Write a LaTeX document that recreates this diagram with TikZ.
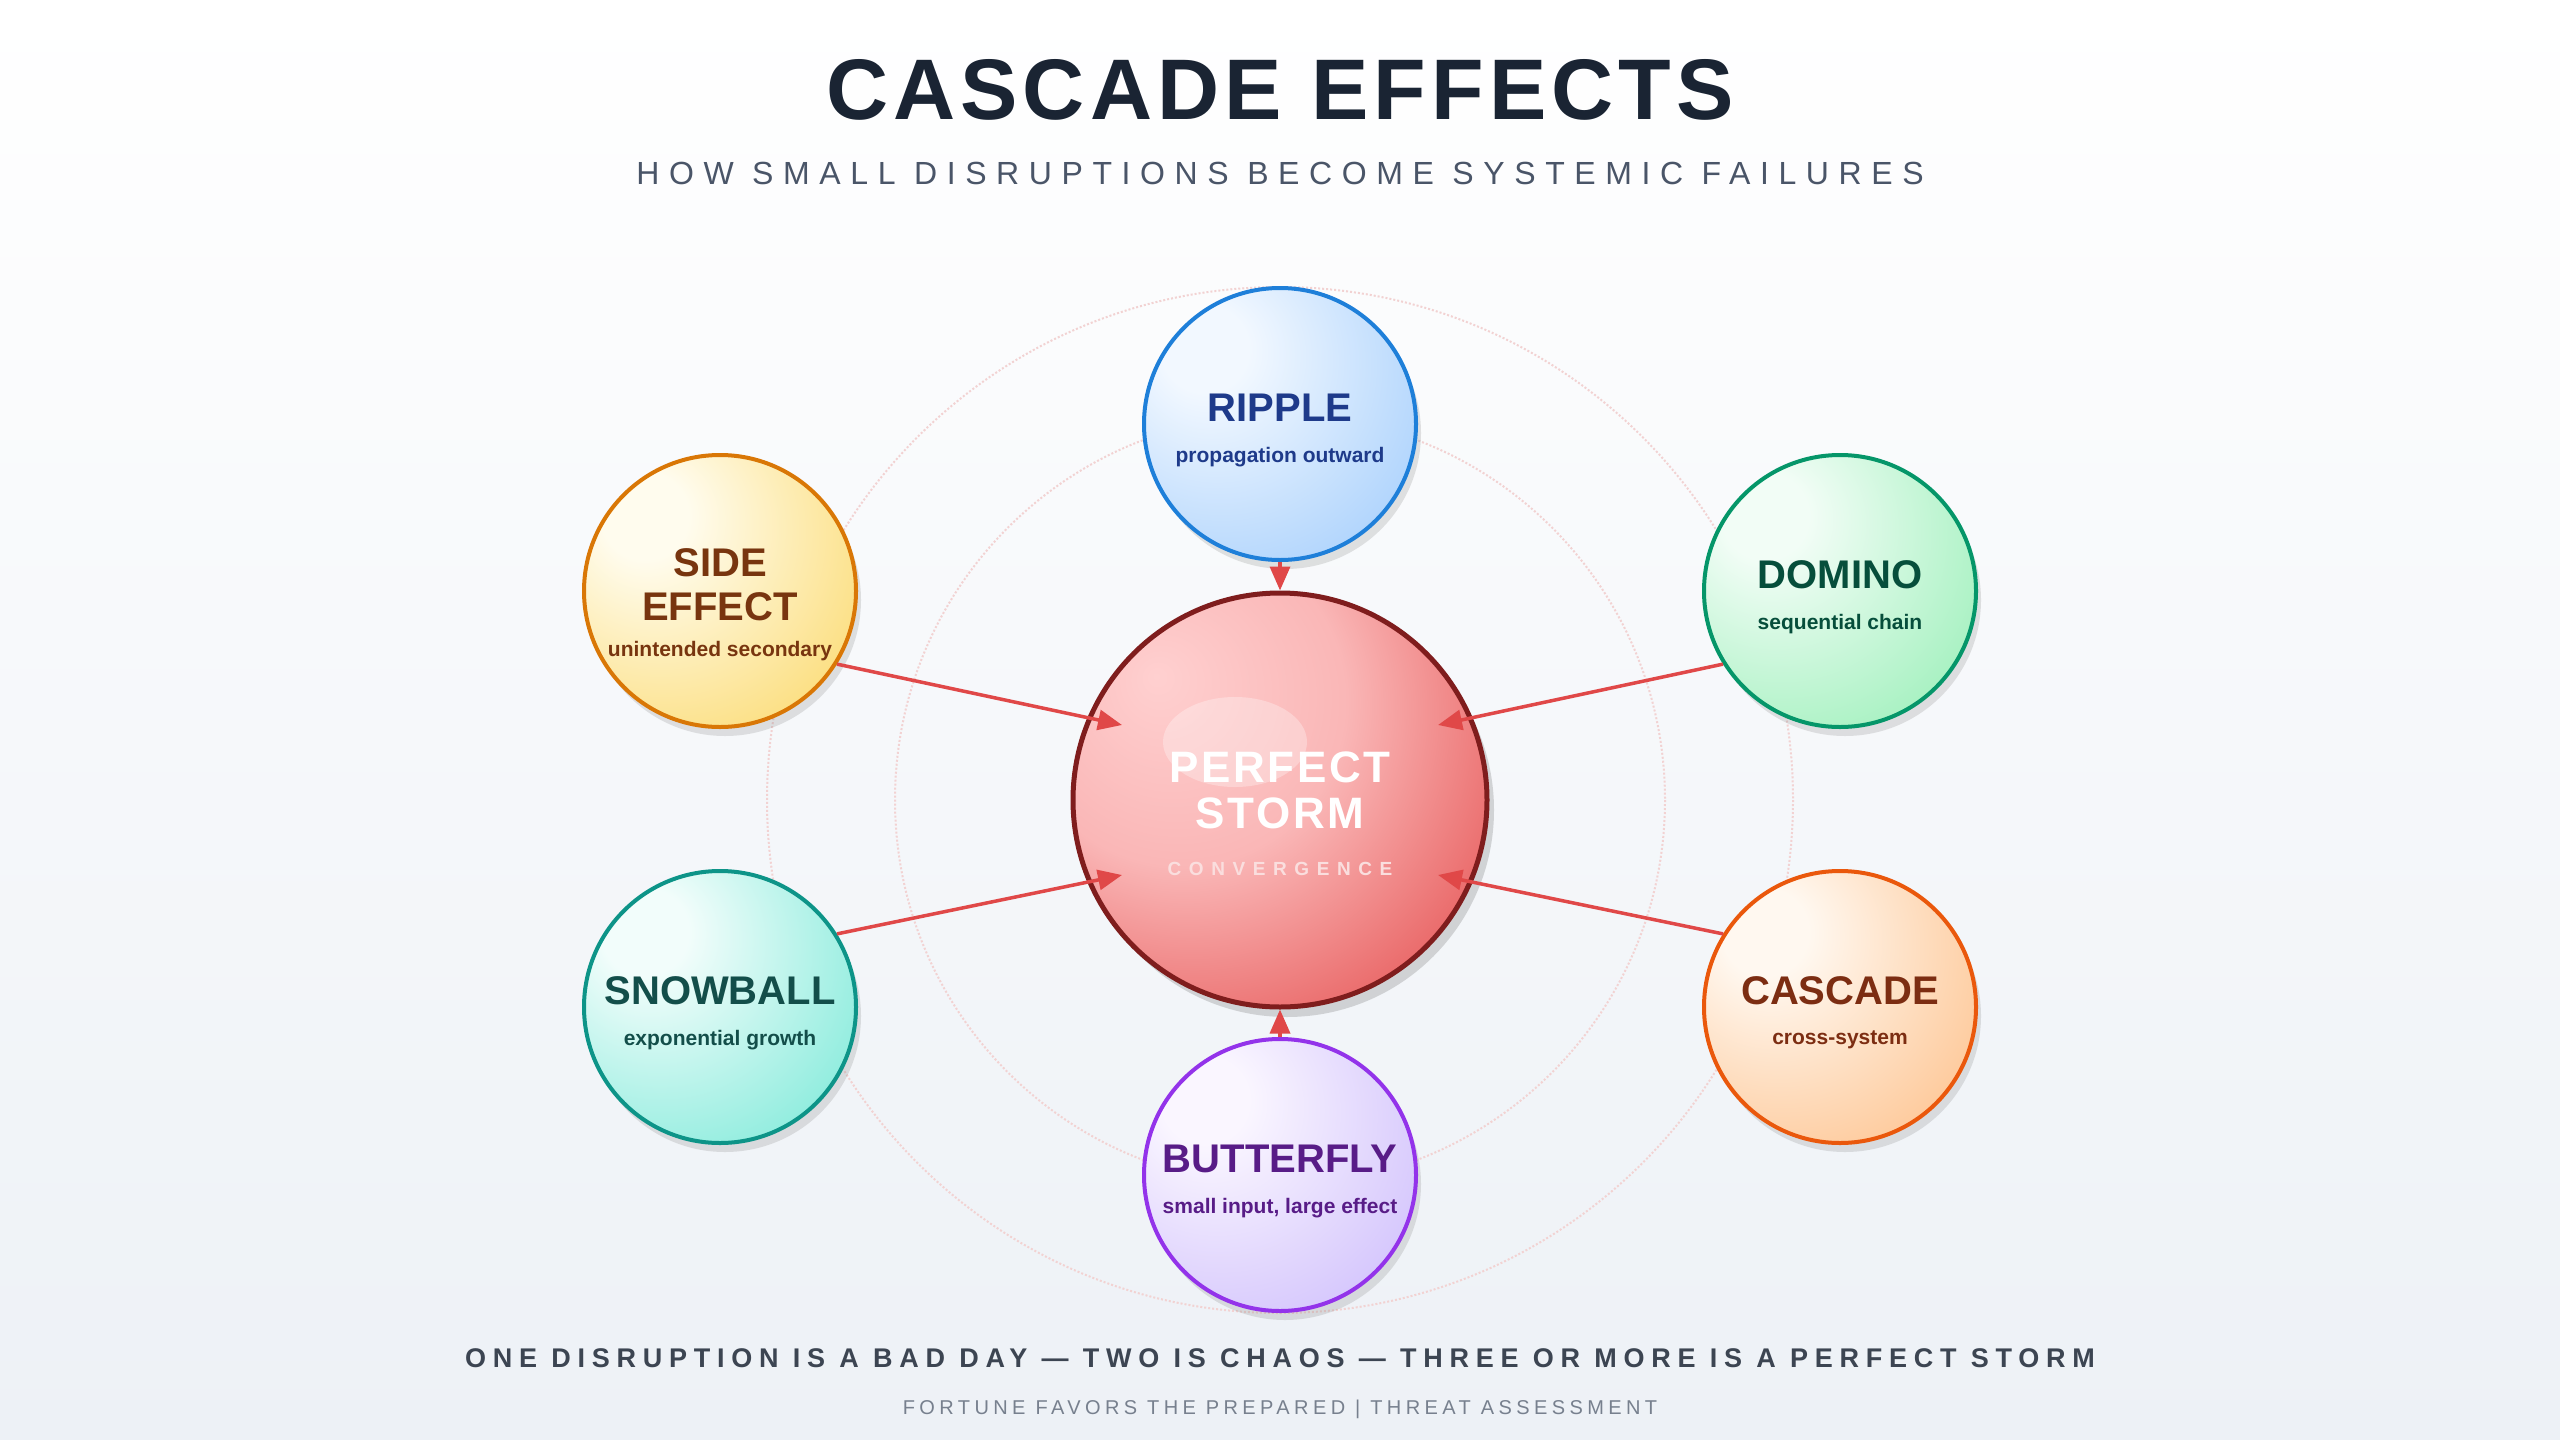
\documentclass[tikz,border=0pt]{standalone}
\usepackage{fontspec}
\setmainfont{Liberation Sans}
\usetikzlibrary{arrows.meta,shadows,calc}
\definecolor{bgb}{HTML}{EDF1F6}
\definecolor{titc}{HTML}{1A2433}
\definecolor{subc}{HTML}{4A5568}
\definecolor{arrc}{HTML}{E04848}
\definecolor{ringc}{HTML}{F2D2D2}
\definecolor{rpI}{HTML}{F2F8FF}\definecolor{rpO}{HTML}{8EC2FB}\definecolor{rpB}{HTML}{1E7FD9}\definecolor{rpT}{HTML}{1E3A8A}
\definecolor{seI}{HTML}{FFFCEE}\definecolor{seO}{HTML}{FAD04A}\definecolor{seB}{HTML}{D97706}\definecolor{seT}{HTML}{78350F}
\definecolor{doI}{HTML}{F2FDF6}\definecolor{doO}{HTML}{80EBA6}\definecolor{doB}{HTML}{059669}\definecolor{doT}{HTML}{064E3B}
\definecolor{snI}{HTML}{F2FDFB}\definecolor{snO}{HTML}{5CE4CF}\definecolor{snB}{HTML}{0D9488}\definecolor{snT}{HTML}{134E4A}
\definecolor{caI}{HTML}{FFF8F0}\definecolor{caO}{HTML}{FDB270}\definecolor{caB}{HTML}{EA580C}\definecolor{caT}{HTML}{7C2D12}
\definecolor{buI}{HTML}{FAF6FF}\definecolor{buO}{HTML}{C2AEFB}\definecolor{buB}{HTML}{9333EA}\definecolor{buT}{HTML}{581C87}
\definecolor{ctI}{HTML}{FFD0D0}\definecolor{ctO}{HTML}{DC2626}\definecolor{ctB}{HTML}{7F1D1D}
\newcommand\mksph[3]{\pgfdeclareradialshading{#1}{\pgfpoint{-15bp}{15bp}}{color(0bp)=(#2); color(8bp)=(#2); color(55bp)=(#3); color(100bp)=(#3)}}
\mksph{shRP}{rpI}{rpO}\mksph{shSE}{seI}{seO}\mksph{shDO}{doI}{doO}
\mksph{shSN}{snI}{snO}\mksph{shCA}{caI}{caO}\mksph{shBU}{buI}{buO}
\pgfdeclareradialshading{shCT}{\pgfpoint{-15bp}{15bp}}{color(0bp)=(ctI); color(20bp)=(ctI!85!ctO); color(55bp)=(ctO); color(100bp)=(ctO!70!black)}
\tikzset{
 satnode/.style={circle,minimum size=272pt,inner sep=0pt,line width=4pt,
   drop shadow={opacity=0.22,shadow xshift=5pt,shadow yshift=-9pt}},
 sattitle/.style={font=\fontsize{40}{44}\selectfont\bfseries,inner sep=0pt},
 satsub/.style={font=\fontsize{21}{24}\selectfont\bfseries,inner sep=0pt},
 conn/.style={arrc,line width=3.5pt,-{Triangle[length=24pt,width=20pt]}},
 ring/.style={ringc,dotted,line width=2pt}
}
\begin{document}
\begin{tikzpicture}[x=1pt,y=-1pt]
\useasboundingbox (0,0) rectangle (2560,1440);
\shade[top color=white,bottom color=bgb] (0,0) rectangle (2560,1440);
\node (title) at (1280,90) {\fontsize{86}{90}\selectfont\bfseries\addfontfeatures{LetterSpace=6}\color{titc}CASCADE EFFECTS};
\node (subtitle) at (1280,173) {\fontsize{32}{36}\selectfont\addfontfeatures{LetterSpace=30}\color{subc}HOW SMALL DISRUPTIONS BECOME SYSTEMIC FAILURES};
\draw[ring] (1280,800) circle (385);
\draw[ring] (1280,800) circle (513);
\node[satnode,draw=rpB,shade,shading=shRP] (rp) at (1280,424) {};
\node[sattitle,text=rpT] (rpt) at (1280,408) {RIPPLE};
\node[satsub,text=rpT] (rps) at (1280,457) {propagation outward};
\node[satnode,draw=seB,shade,shading=shSE] (se) at (720,591) {};
\node[sattitle,text=seT] (set1) at (720,563) {SIDE};
\node[sattitle,text=seT] (set2) at (720,607) {EFFECT};
\node[satsub,text=seT] (ses) at (720,651) {unintended secondary};
\node[satnode,draw=doB,shade,shading=shDO] (do) at (1840,591) {};
\node[sattitle,text=doT] (dot) at (1840,575) {DOMINO};
\node[satsub,text=doT] (dos) at (1840,624) {sequential chain};
\node[satnode,draw=snB,shade,shading=shSN] (sn) at (720,1007) {};
\node[sattitle,text=snT] (snt) at (720,991) {SNOWBALL};
\node[satsub,text=snT] (sns) at (720,1040) {exponential growth};
\node[satnode,draw=caB,shade,shading=shCA] (ca) at (1840,1007) {};
\node[sattitle,text=caT] (cat) at (1840,991) {CASCADE};
\node[satsub,text=caT] (cas) at (1840,1040) {cross-system};
\node[satnode,draw=buB,shade,shading=shBU] (bu) at (1280,1175) {};
\node[sattitle,text=buT] (but) at (1280,1159) {BUTTERFLY};
\node[satsub,text=buT] (bus) at (1280,1208) {small input, large effect};
\node[circle,minimum size=414pt,line width=5pt,draw=ctB,shade,shading=shCT,
  drop shadow={opacity=0.3,shadow xshift=7pt,shadow yshift=-10pt}] (ct) at (1280,800) {};
\fill[white,opacity=0.3] (1235,742) ellipse (72 and 45);
\node[text=white,inner sep=0pt,font=\fontsize{44}{48}\selectfont\bfseries\addfontfeatures{LetterSpace=6}] (ct1) at (1280,767) {PERFECT};
\node[text=white,inner sep=0pt,font=\fontsize{44}{48}\selectfont\bfseries\addfontfeatures{LetterSpace=6}] (ct2) at (1280,813) {STORM};
\node[text=white!85!ctO,inner sep=0pt,font=\fontsize{19}{22}\selectfont\bfseries\addfontfeatures{LetterSpace=40}] (ct3) at (1280,869) {CONVERGENCE};
\coordinate (seE) at (1122,725);
\coordinate (doE) at (1438,725);
\coordinate (snE) at (1122,875);
\coordinate (caE) at (1438,875);
\draw[conn] (se.-32) -- (seE);
\draw[conn] (do.212) -- (doE);
\draw[conn] (sn.32) -- (snE);
\draw[conn] (ca.148) -- (caE);
\draw[conn] (rp) -- (ct);
\draw[conn] (bu) -- (ct);
\node (tag) at (1280,1358) {\fontsize{27}{30}\selectfont\bfseries\addfontfeatures{LetterSpace=25}\color{titc!85!white}ONE DISRUPTION IS A BAD DAY — TWO IS CHAOS — THREE OR MORE IS A PERFECT STORM};
\node (foot) at (1280,1409) {\fontsize{20}{22}\selectfont\addfontfeatures{LetterSpace=22}\color{subc!75!white}FORTUNE FAVORS THE PREPARED | THREAT ASSESSMENT};
\end{tikzpicture}
\end{document}
